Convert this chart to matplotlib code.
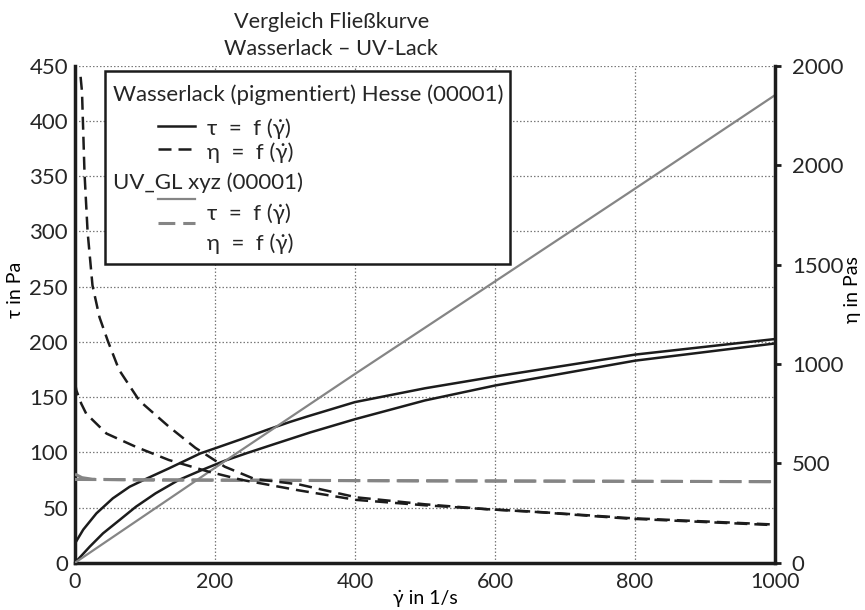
import numpy as np
import matplotlib
matplotlib.use("Agg")
import matplotlib.pyplot as plt
from matplotlib.lines import Line2D
from matplotlib.patches import Rectangle

plt.rcParams['font.family'] = ['Lato', 'DejaVu Sans']
plt.rcParams['font.size'] = 16
plt.rcParams['text.color'] = '#262626'

# shear stress tau (left axis, Pa)
gamma_tau_w1 = [0, 11.8, 30.6, 54, 78, 103, 134, 179, 200, 238, 275, 307, 332,
                400, 500, 600, 800, 1000]
tau_w1 = [17.5, 30, 44.7, 58.3, 68.8, 76.4, 85.4, 99, 103.6, 112, 120.5, 127.5, 132.5,
          145.5, 158, 168.6, 188.5, 202.6]
gamma_tau_w2 = [0, 21, 40, 63.5, 87, 115, 148, 181, 214, 247, 285, 336, 400, 500,
                600, 800, 1000]
tau_w2 = [0, 14.5, 26.6, 38.6, 50.7, 62.8, 74.9, 83.9, 92.4, 99.6, 107.5, 118, 130,
          147, 160.5, 183, 198.6]
gamma_tau_uv = [0, 200, 400, 590, 790, 1000]
tau_uv = [0, 86, 171, 250.6, 334.6, 423.5]

# viscosity eta (right axis, Pas)
gamma_eta_w1 = [8, 10, 13.6, 18, 25, 35, 47, 63, 92, 134, 172, 214, 256, 320,
                402, 500, 590, 656, 790, 1000]
eta_w1 = [2445, 2370, 1960, 1665, 1395, 1235, 1115, 970, 815, 685, 578, 483, 422,
          394, 329, 294, 269, 257, 225, 192]
gamma_eta_w2 = [0, 2, 9, 16, 45, 87, 134, 191, 238, 320, 402, 500, 590, 656, 790, 1000]
eta_w2 = [906, 867, 800, 750, 650, 583, 517, 458, 417, 364, 316, 289, 269, 256, 222, 189]
gamma_eta_uv1 = [0, 10, 25, 100, 500, 1000]
eta_uv1 = [446, 428, 420, 416, 412, 408]
gamma_eta_uv2 = [0, 500, 1000]
eta_uv2 = [419, 412, 408]

x_ticks = [0, 200, 400, 600, 800, 1000]
tau_ticks = list(range(0, 451, 50))
eta_ticks = [0, 500, 1000, 1500, 2000, 2500]
eta_ticklabels = ['0', '500', '1000', '1500', '2000', '2000']

black = '#1c1c1c'
grey = '#858585'
gdot = "\u03b3\u0307"

fig = plt.figure(figsize=(8.65, 6.1), dpi=100)
ax = fig.add_axes([0.0867, 0.0775, 0.8093, 0.8145])
ax2 = ax.twinx()

ax.plot(gamma_tau_w1, tau_w1, color=black, lw=1.8, zorder=3)
ax.plot(gamma_tau_w2, tau_w2, color=black, lw=1.8, zorder=3)
ax.plot(gamma_tau_uv, tau_uv, color=grey, lw=1.6, zorder=3)

ax2.plot(gamma_eta_uv1, eta_uv1, color=grey, lw=2.2, dashes=(7, 2.6))
ax2.plot(gamma_eta_uv2, eta_uv2, color=grey, lw=2.2, dashes=(7, 2.6))
ax2.plot(gamma_eta_w1, eta_w1, color=black, lw=1.8, dashes=(5.2, 2.8))
ax2.plot(gamma_eta_w2, eta_w2, color=black, lw=1.8, dashes=(5.2, 2.8))

ax.set_xlim(0, 1000)
ax.set_ylim(0, 450)
ax2.set_ylim(0, 2500)
ax.set_xticks(x_ticks)
ax.set_yticks(tau_ticks)
ax2.set_yticks(eta_ticks)
ax2.set_yticklabels(eta_ticklabels)

ax.grid(True, color='#7a7a7a', linestyle=(0, (1.2, 1.6)), linewidth=0.9)
ax.set_axisbelow(True)
ax.tick_params(axis='both', length=0, labelcolor='#262626')
ax.tick_params(axis='y', pad=5)
ax.tick_params(axis='x', pad=7, labelsize=15.5)
ax2.tick_params(axis='y', length=4, width=2, pad=8, labelcolor='#262626', color=black)

for name, sp in ax.spines.items():
    sp.set_linewidth(2.5)
    sp.set_color(black)
ax.spines['top'].set_visible(False)
ax.spines['right'].set_visible(False)
for name, sp in ax2.spines.items():
    sp.set_visible(name == 'right')
    sp.set_linewidth(2.5)
    sp.set_color(black)

ax.set_xlabel(gdot + " in 1/s", fontsize=14, va='center')
ax.xaxis.set_label_coords(0.5, -0.071)
ax.set_ylabel("\u03c4 in Pa", fontsize=14, va='center')
ax.yaxis.set_label_coords(-0.0857, 0.55)
ax2.set_ylabel("\u03b7 in Pas", fontsize=14, va='center')
ax2.yaxis.set_label_coords(1.11, 0.55)
ax.set_title("Vergleich Fließkurve\nWasserlack \u2013 UV-Lack", fontsize=15.6, x=0.366,
             pad=8, linespacing=1.45)

# legend box drawn by hand
tr = ax.transAxes
ax2.add_patch(Rectangle((0.043, 0.601), 0.578, 0.389, transform=tr, facecolor='white',
                        edgecolor=black, lw=1.8, zorder=10))
kw = dict(transform=tr, zorder=11, va='center', ha='left')
ax2.text(0.054, 0.941, "Wasserlack (pigmentiert) Hesse (00001)", **kw)
ax2.text(0.054, 0.764, "UV_GL xyz (00001)", **kw)
ax2.text(0.189, 0.874, "\u03c4  =  f (" + gdot + ")", **kw)
ax2.text(0.189, 0.826, "\u03b7  =  f (" + gdot + ")", **kw)
ax2.text(0.189, 0.703, "\u03c4  =  f (" + gdot + ")", **kw)
ax2.text(0.189, 0.643, "\u03b7  =  f (" + gdot + ")", **kw)
ax2.add_line(Line2D([0.119, 0.171], [0.878, 0.878], transform=tr, color=black, lw=1.8, zorder=11))
ax2.add_line(Line2D([0.119, 0.171], [0.832, 0.832], transform=tr, color=black, lw=1.8,
                    dashes=(5.2, 2.8), zorder=11))
ax2.add_line(Line2D([0.119, 0.171], [0.732, 0.732], transform=tr, color=grey, lw=1.6, zorder=11))
ax2.add_line(Line2D([0.119, 0.171], [0.684, 0.684], transform=tr, color=grey, lw=2.2,
                    dashes=(5.5, 2.6), zorder=11))

plt.savefig("out.png", dpi=100)
